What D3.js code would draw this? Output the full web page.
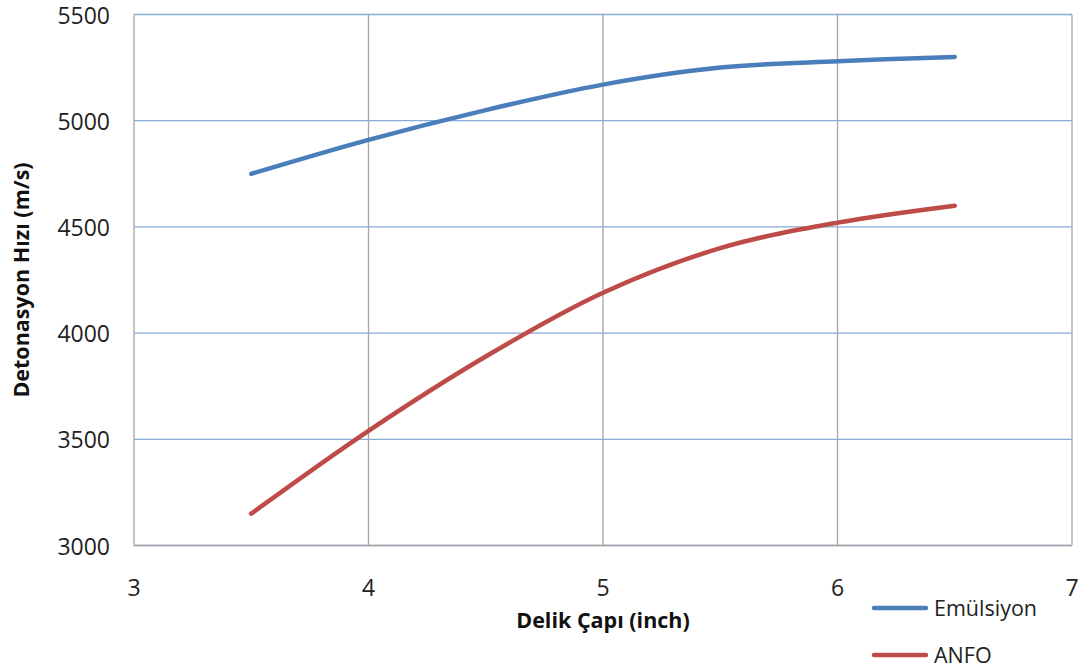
<!DOCTYPE html>
<html><head><meta charset="utf-8">
<script src="https://cdn.jsdelivr.net/npm/d3@7"></script>
<style>body{margin:0;background:#fff}svg{display:block}</style>
</head><body>
<svg id="c" width="1084" height="670"></svg>
<script>
const xs = [3.5, 4, 4.5, 5, 5.5, 6, 6.5];
const emulsiyon = [4750, 4910, 5050, 5170, 5250, 5280, 5300];
const anfo = [3150, 3540, 3890, 4190, 4400, 4520, 4600];
const xTicks = [3, 4, 5, 6, 7];
const yTicks = [3000, 3500, 4000, 4500, 5000, 5500];
const seriesNames = ["Emülsiyon", "ANFO"];
const colors = ["#4A7EBB", "#BE4B48"];

const svg = d3.select("#c");
const L = 134, R = 1072, T = 14.5, B = 545.5;
const x = d3.scaleLinear().domain([3, 7]).range([L, R]);
const y = d3.scaleLinear().domain([3000, 5500]).range([B, T]);
const font = "'Open Sans', sans-serif";

// horizontal gridlines
svg.append("g").selectAll("line").data(yTicks).join("line")
  .attr("x1", L).attr("x2", R).attr("y1", d => y(d)).attr("y2", d => y(d))
  .attr("stroke", "#88AAD6").attr("stroke-width", 1.3);
// vertical gridlines
svg.append("g").selectAll("line").data(xTicks.slice(1)).join("line")
  .attr("x1", d => x(d)).attr("x2", d => x(d)).attr("y1", T).attr("y2", B)
  .attr("stroke", "#A6A6A6").attr("stroke-width", 1.3);
// axes
svg.append("line").attr("x1", L).attr("x2", L).attr("y1", T).attr("y2", B)
  .attr("stroke", "#A6A6A6").attr("stroke-width", 1.3);
svg.append("line").attr("x1", L).attr("x2", R).attr("y1", B).attr("y2", B)
  .attr("stroke", "#A6A6A6").attr("stroke-width", 1.3);

// tick labels
svg.append("g").selectAll("text").data(yTicks).join("text")
  .attr("x", L - 24).attr("y", d => y(d) + 9)
  .attr("text-anchor", "end").attr("font-family", font).attr("font-size", 23)
  .attr("fill", "#222").text(d => d);
svg.append("g").selectAll("text").data(xTicks).join("text")
  .attr("x", d => x(d)).attr("y", 596)
  .attr("text-anchor", "middle").attr("font-family", font).attr("font-size", 23)
  .attr("fill", "#222").text(d => d);

// axis titles
svg.append("text").attr("x", (L + R) / 2).attr("y", 628).attr("text-anchor", "middle")
  .attr("font-family", font).attr("font-size", 21.5).attr("font-weight", "bold")
  .attr("fill", "#111").text("Delik Çapı (inch)");
svg.append("text").attr("transform", `translate(29,${(T + B) / 2}) rotate(-90)`)
  .attr("text-anchor", "middle")
  .attr("font-family", font).attr("font-size", 21.5).attr("font-weight", "bold")
  .attr("fill", "#111").text("Detonasyon Hızı (m/s)");

// lines
const line = d3.line().x((d, i) => x(xs[i])).y(d => y(d)).curve(d3.curveCatmullRom);
[emulsiyon, anfo].forEach((s, k) => {
  svg.append("path").attr("d", line(s)).attr("fill", "none")
    .attr("stroke", colors[k]).attr("stroke-width", 4.5).attr("stroke-linecap", "round");
});

// legend
const lg = svg.append("g");
seriesNames.forEach((n, k) => {
  const yy = 608 + k * 47;
  lg.append("line").attr("x1", 874).attr("x2", 926).attr("y1", yy).attr("y2", yy)
    .attr("stroke", colors[k]).attr("stroke-width", 4.5).attr("stroke-linecap", "round");
  lg.append("text").attr("x", 934).attr("y", yy).attr("dy", "0.35em")
    .attr("font-family", font).attr("font-size", 21.5).attr("fill", "#222").text(n);
});
</script>
</body></html>
